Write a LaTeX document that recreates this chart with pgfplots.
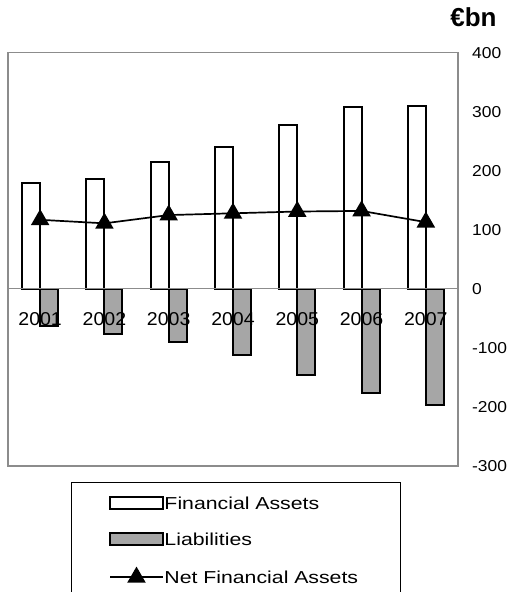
\documentclass[border=0pt]{standalone}
\usepackage{pgfplots}
\pgfplotsset{compat=1.18}
\usepackage{fontspec}
\setmainfont{Liberation Sans}
\newfontfamily\tickfont[FakeStretch=1.1]{Liberation Sans}
\newfontfamily\yearfont[FakeStretch=1.05]{Liberation Sans}
\newfontfamily\legfont[FakeStretch=1.23]{Liberation Sans}
\definecolor{liab}{HTML}{A6A6A6}
\definecolor{frame}{HTML}{8C8C8C}
\pgfplotsset{
    barlegend/.style={legend image code/.code={\draw[##1] (0pt,-6pt) rectangle (52pt,6pt);}},
    linelegend/.style={legend image code/.code={\draw[##1,mark repeat=2,mark phase=2] plot coordinates {(0pt,0pt)(26pt,0pt)(52pt,0pt)};}},
}

\begin{document}
\begin{tikzpicture}
\useasboundingbox (0,0) rectangle (510pt,592pt);
\begin{axis}[
    at={(8pt,126pt)}, anchor=south west,
    scale only axis, width=450pt, height=413.3pt,
    xmin=0.5, xmax=7.5, ymin=-300, ymax=400,
    axis on top,
    xtick={1,...,7},
    xticklabels={2001,2002,2003,2004,2005,2006,2007},
    ytick={-300,-200,...,400},
    yticklabel pos=right,
    major tick length=0pt,
    axis line style={draw=frame, line width=1.5pt},
    /pgf/number format/assume math mode=true,
    yticklabel style={font=\tickfont\fontsize{15.8}{16}\selectfont, anchor=west, inner xsep=0pt, xshift=14pt},
    xticklabel style={font=\yearfont\fontsize{18.6}{19}\selectfont, anchor=center, yshift=147pt},
    extra y ticks={0}, extra y tick labels={},
    extra y tick style={grid=major, major grid style={draw=frame, line width=1pt}},
    legend style={at={(0.14,-0.0387)}, anchor=north west,
        draw=black, line width=1pt, inner xsep=38pt, inner ysep=13.8pt,
        row sep=22pt,
        nodes={font=\legfont\fontsize{17.3}{18}\selectfont, text height=12.4pt, text depth=0pt,
               inner ysep=0pt, inner xsep=1pt, text width=197pt, align=left},
        /tikz/every even column/.append style={column sep=0pt}},
    legend cell align=left,
]
\addplot[ybar, bar width=18pt, bar shift=-9pt, draw=black, fill=white, line width=2pt, barlegend]
    coordinates {(1,180)(2,186)(3,215)(4,240)(5,277)(6,308)(7,309)};
\addlegendentry{Financial Assets}
\addplot[ybar, bar width=18pt, bar shift=9pt, draw=black, fill=liab, line width=2pt, barlegend]
    coordinates {(1,-63)(2,-76)(3,-90)(4,-112)(5,-146)(6,-176)(7,-197)};
\addlegendentry{Liabilities}
\addplot[black, line width=1.7pt, mark=triangle*, mark size=9pt, mark options={solid}, linelegend]
    coordinates {(1,117)(2,111)(3,125)(4,128)(5,131)(6,132)(7,113)};
\addlegendentry{Net Financial Assets}
\end{axis}
\node[font=\bfseries\fontsize{26}{27}\selectfont] at (473.5pt,575pt) {€bn};
\end{tikzpicture}
\end{document}
